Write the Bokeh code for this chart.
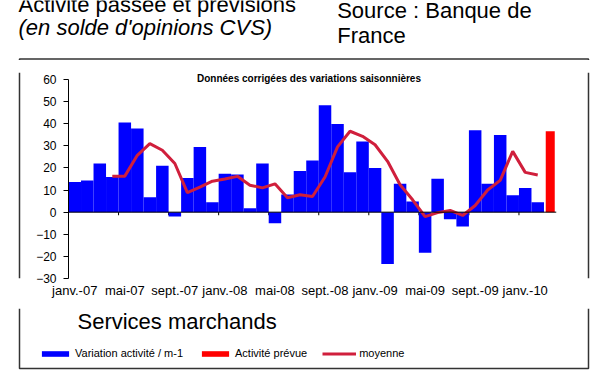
from bokeh.plotting import figure
from bokeh.models import (Range1d, FixedTicker, Label, Span, Legend, LegendItem)
from bokeh.layouts import column, row
from bokeh.embed import file_html
from bokeh.resources import INLINE

# ---- data ----
tick_labels = ["janv.-07", "mai-07", "sept.-07", "janv.-08", "mai-08",
               "sept.-08", "janv.-09", "mai-09", "sept.-09", "janv.-10"]
variation = [13.6, 14.3, 22, 15.9, 40.5, 37.8, 6.8, 21, -2, 15.4,
             29.5, 4.5, 17.4, 17, 1.8, 22, -5, 8, 18.6, 23.4,
             48.3, 39.9, 18.1, 32, 20, -23.4, 12.8, 4.8, -18.3, 15.1,
             -3.2, -6.5, 37, 12.8, 34.9, 7.6, 10.9, 4.5]
prevue = [36.6]
moyenne = [16.2, 16.3, 25.7, 31, 28, 22, 8.8, 11.3, 14, 15,
           16.2, 12.2, 11, 12.8, 6.5, 7.9, 7.1, 15.9, 29.5, 36.6,
           34.3, 30.5, 23, 12.4, 5.6, -2, -0.2, 0.8, -1.5, 3,
           10, 14.4, 27.5, 18, 16.8]
moyenne_start = 4  # first month (1-based) of the moving average

n_var = len(variation)
x_var = list(range(1, n_var + 1))
x_prev = [n_var + 1]
x_moy = list(range(moyenne_start, moyenne_start + len(moyenne)))
n_cat = n_var + len(prevue)

FONT = "Liberation Sans"
BOX = "#333333"
LINE_RED = "#D01F3C"
TOTAL_W = 592


def blank(w, h):
    f = figure(width=w, height=h, x_range=Range1d(0, w), y_range=Range1d(0, h),
               x_axis_type=None, y_axis_type=None, min_border=0, title=None,
               toolbar_location=None, output_backend="svg")
    f.outline_line_color = None
    f.background_fill_color = "white"
    f.border_fill_color = "white"
    return f


def lab(f, text, x, base_from_top, frame_h, size, style="normal", align="left"):
    """Place text by its baseline, measured in px from the frame top."""
    bottom = base_from_top + 0.21 * size  # descender bottom
    f.add_layout(Label(x=x, y=frame_h - bottom, x_units="screen",
                       y_units="screen", text=text, text_font=FONT,
                       text_font_size=f"{size}px", text_font_style=style,
                       text_color="black", text_align=align,
                       text_baseline="bottom"))


# ---- top strip: titles + top edge of the box ----
TOP_H = 60
top = blank(TOTAL_W, TOP_H)
lab(top, "Activité passée et prévisions", 18, 12, TOP_H, 22)
lab(top, "(en solde d'opinions CVS)", 18, 35, TOP_H, 22, style="italic")
lab(top, "Source : Banque de", 336.7, 18.3, TOP_H, 22)
lab(top, "France", 336.7, 43.3, TOP_H, 22)
top.line(x=[19, 19, 588, 588], y=[0, 1.5, 1.5, 0], line_color=BOX,
         line_width=1.5)

# ---- main chart ----
MAIN_H = 248
p = figure(width=548, height=MAIN_H, output_backend="svg", toolbar_location=None,
           title=None,
           x_range=Range1d(0.5, n_cat + 0.5), y_range=Range1d(-30, 63.166),
           min_border_left=42, min_border_right=18, min_border_top=12,
           min_border_bottom=30)
p.outline_line_color = None
p.grid.visible = False
p.background_fill_color = "white"
p.border_fill_color = "white"

bounds = [b + 0.5 for b in range(4, n_cat, 4)]
p.segment(x0=bounds, x1=bounds, y0=[0] * len(bounds), y1=[-1.4] * len(bounds),
          line_color="black", line_width=1)

p.vbar(x=x_var, top=variation, width=1.0, fill_color="#0000FF", line_color=None)
p.vbar(x=x_prev, top=prevue, width=0.72, fill_color="#FF0000", line_color=None)
p.add_layout(Span(location=0, dimension="width", line_color="black",
                  line_width=1))
p.line(x=x_moy, y=moyenne, line_color=LINE_RED, line_width=3)

yax = p.yaxis[0]
yax.ticker = FixedTicker(ticks=list(range(-30, 61, 10)))
yax.bounds = (-30, 60)
yax.axis_line_color = "black"
yax.major_tick_line_color = "black"
yax.major_tick_out = 5
yax.major_tick_in = 0
yax.minor_tick_line_color = None
yax.major_label_standoff = 7
yax.major_label_text_font = FONT
yax.major_label_text_font_size = "12px"
yax.major_label_text_color = "black"

xax = p.xaxis[0]
tick_pos = list(range(1, n_cat + 1, 4))
xax.ticker = FixedTicker(ticks=tick_pos)
xax.major_label_overrides = {t: l for t, l in zip(tick_pos, tick_labels)}
xax.axis_line_color = None
xax.major_tick_line_color = None
xax.minor_tick_line_color = None
xax.major_tick_out = 0
xax.major_label_standoff = 4
xax.major_label_text_font = FONT
xax.major_label_text_font_size = "13px"
xax.major_label_text_color = "black"

# frame spans 72..278 px of the page; subtitle baseline at 81.5
lab(p, "Données corrigées des variations saisonnières", 240.5, 81.5 - 72, 206,
    10, style="bold", align="center")

left = blank(26, MAIN_H)
left.line(x=[19, 19], y=[0, MAIN_H], line_color=BOX, line_width=1.5)
right = blank(18, MAIN_H)
right.line(x=[14, 14], y=[0, MAIN_H], line_color=BOX, line_width=1.5)

# ---- bottom strip: subtitle, legend, bottom edge ----
BOT_H = 62
bot = blank(TOTAL_W, BOT_H)
lab(bot, "Services marchands", 77, 21.3, BOT_H, 22)
bot.line(x=[19, 19, 588, 588], y=[BOT_H, 2, 2, BOT_H], line_color=BOX,
         line_width=1.5)

# legend swatches (renderers placed outside the visible strip)
g_var = bot.vbar(x=[-50], top=[-50], bottom=[-60], width=1,
                 fill_color="#0000FF", line_color=None)
g_prev = bot.vbar(x=[-50], top=[-50], bottom=[-60], width=1,
                  fill_color="#FF0000", line_color=None)
g_moy = bot.line(x=[-60, -50], y=[-50, -50], line_color=LINE_RED, line_width=3)

legend = Legend(items=[
    LegendItem(label="Variation activité / m-1", renderers=[g_var]),
    LegendItem(label="Activité prévue", renderers=[g_prev]),
    LegendItem(label="moyenne", renderers=[g_moy]),
], orientation="horizontal", location=(38, 11),
    glyph_width=34, glyph_height=7, label_standoff=3, spacing=15,
    padding=0, margin=0, border_line_alpha=0, background_fill_alpha=0,
    label_text_font=FONT, label_text_font_size="11px", label_height=12,
    label_text_color="black")
bot.add_layout(legend, "center")

layout = column(top, row(left, p, right), bot)
open("out.html", "w").write(file_html(layout, INLINE))
